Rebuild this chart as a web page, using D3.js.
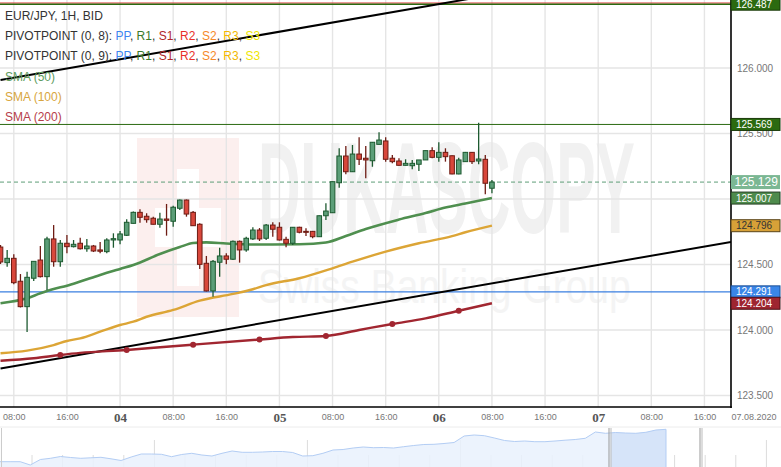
<!DOCTYPE html>
<html><head><meta charset="utf-8">
<script src="https://cdn.jsdelivr.net/npm/d3@7"></script>
<style>body{margin:0;background:#fff;overflow:hidden}svg{display:block;font-family:"Liberation Sans",Arial,sans-serif}</style>
</head><body><svg id="chart" width="781" height="467"></svg>
<script>
// ---------- DATA ----------
// hourly candles, EUR/JPY, starting 03.08.2020 06:00
const opens  = [124.633,124.514,124.547,124.372,124.178,124.395,124.534,124.407,124.695,124.521,124.662,124.636,124.662,124.620,124.641,124.611,124.598,124.687,124.687,124.723,124.814,124.898,124.868,124.853,124.807,124.847,124.830,124.929,124.992,124.898,124.807,124.509,124.298,124.517,124.565,124.540,124.677,124.611,124.695,124.763,124.700,124.801,124.784,124.692,124.662,124.784,124.753,124.753,124.712,124.872,124.895,125.124,125.328,125.208,125.343,125.311,125.292,125.417,125.443,125.311,125.290,125.257,125.254,125.265,125.298,125.369,125.318,125.356,125.330,125.191,125.285,125.356,125.290,125.303,125.082];
const highs  = [124.649,124.611,124.578,124.427,124.445,124.527,124.641,124.712,124.801,124.687,124.725,124.687,124.704,124.695,124.649,124.672,124.700,124.738,124.756,124.845,124.904,124.921,124.891,124.865,124.895,124.962,124.949,124.996,124.996,124.908,124.814,124.565,124.534,124.628,124.585,124.683,124.683,124.712,124.784,124.778,124.809,124.822,124.822,124.712,124.786,124.788,124.776,124.756,124.874,124.967,125.133,125.387,125.404,125.412,125.471,125.404,125.435,125.509,125.471,125.336,125.311,125.303,125.298,125.298,125.370,125.395,125.433,125.387,125.332,125.315,125.359,125.359,125.582,125.336,125.145];
const lows   = [124.504,124.483,124.349,124.172,123.985,124.374,124.401,124.305,124.483,124.483,124.585,124.630,124.614,124.598,124.595,124.585,124.585,124.628,124.654,124.717,124.813,124.819,124.819,124.805,124.781,124.720,124.788,124.916,124.865,124.794,124.466,124.294,124.254,124.407,124.501,124.534,124.514,124.598,124.687,124.679,124.687,124.712,124.683,124.631,124.649,124.738,124.717,124.700,124.710,124.840,124.893,125.086,125.188,125.206,125.259,125.158,125.246,125.416,125.285,125.272,125.256,125.256,125.227,125.214,125.298,125.311,125.285,125.285,125.188,125.188,125.285,125.267,125.265,125.036,125.043];
const closes = [124.519,124.547,124.361,124.178,124.402,124.524,124.407,124.695,124.521,124.662,124.636,124.654,124.620,124.641,124.603,124.601,124.687,124.697,124.733,124.822,124.898,124.860,124.842,124.807,124.847,124.837,124.937,124.992,124.885,124.796,124.501,124.298,124.524,124.565,124.540,124.677,124.611,124.700,124.763,124.695,124.801,124.769,124.687,124.662,124.784,124.746,124.746,124.712,124.872,124.908,125.132,125.328,125.208,125.343,125.303,125.298,125.433,125.450,125.303,125.285,125.257,125.272,125.272,125.298,125.369,125.318,125.356,125.323,125.191,125.298,125.356,125.285,125.305,125.120,125.129];

// moving averages, [candle index, value]
const sma50  = [[0,124.204],[4,124.242],[6,124.280],[8,124.313],[10,124.338],[12,124.370],[15,124.420],[18,124.466],[20,124.496],[24,124.580],[27,124.633],[29,124.664],[31,124.669],[34,124.660],[39,124.652],[45,124.654],[49,124.668],[52,124.717],[55,124.771],[60,124.843],[64,124.893],[67,124.935],[70,124.965],[74,125.007]];
const sma100 = [[0,123.822],[4,123.842],[8,123.885],[10,123.916],[12,123.936],[15,123.987],[18,124.038],[20,124.063],[22,124.101],[26,124.153],[30,124.224],[35,124.275],[38,124.311],[40,124.343],[45,124.395],[50,124.471],[53,124.521],[58,124.598],[63,124.662],[68,124.717],[70,124.746],[74,124.796]];
const sma200 = [[0,123.765],[5,123.784],[9,123.809],[12,123.825],[19,123.847],[25,123.872],[29,123.888],[39,123.927],[44,123.946],[49,123.954],[54,124.000],[59,124.046],[64,124.089],[69,124.147],[74,124.204]];
const sma200Markers = [9,19,29,39,49,59,69];

// trend lines, [candle index, price]
const trendUpper = [[0,125.908],[110,126.874]];
const trendLower = [[0,123.706],[110,124.672]];

// horizontal levels
const levelR = 126.496;
const levelTop = 126.487;
const levelMid = 125.569;
const levelPP = 124.291;
const lastPrice = 125.129;

// right axis price labels
const priceLabels = [126.487, 125.569, 125.129, 125.007, 124.796, 124.291, 124.204];
const yTickValues = [123.5, 124.0, 124.5, 125.0, 125.5, 126.0];
const dateLabel = "07.08.2020";

// navigator series (relative level)
const navValues = [5.3,5.3,5.3,2,7.5,8.7,10.5,9.5,8.7,9.2,9.7,8.2,6.5,10,13,13,12.7,10.3,12.5,13.7,12,11,13.7,16,14.7,14.7,15,15.5,15.5,14.5,11,11.3,13.7,17,17.5,19,20,19.3,19.5,19,20.3,21.5,22.5,22.7,23.5,24.5,31,32,31.3,29,26.5,25.5,26,25.3,25.3,26,26.8,27.5,28.7,35,33.7,34.5,34,33.7,34.7,37,37.7];

// legend
const legendTitle = "EUR/JPY, 1H, BID";
const pivotNames = ["PIVOTPOINT (0, 8): ", "PIVOTPOINT (0, 9): "];
const pivotKeys = ["PP","R1","S1","R2","S2","R3","S3"];
const smaNames = ["SMA (50)","SMA (100)","SMA (200)"];

// ---------- STYLE ----------
const C = {
  grid:"#e5e5e5", bullFill:"#5c9e78", bullLine:"#1d5a30", bearFill:"#d8473b", bearLine:"#6e1c14",
  sma50:"#4f8f4f", sma100:"#dca536", sma200:"#a12630",
  pivot:{PP:"#3d85f0",R1:"#3b7a2a",S1:"#b0282a",R2:"#e8302a",S2:"#f58a2a",R3:"#f2b800",S3:"#f0e600"},
  smaText:["#5e9c5e","#d8a640","#b6404a"]
};
const labelStyle = {
  "126.487":{fill:"#2b6a10",stroke:"#1a3a0a",text:"#fff"},
  "125.569":{fill:"#2b6a10",stroke:"#1a3a0a",text:"#fff"},
  "125.129":{fill:"#7bb793",stroke:"none",text:"#fff",big:true},
  "125.007":{fill:"#4e8b4c",stroke:"#243f22",text:"#fff"},
  "124.796":{fill:"#d7a138",stroke:"#5a4418",text:"#333"},
  "124.291":{fill:"#3a86e8",stroke:"#1d4f96",text:"#fff"},
  "124.204":{fill:"#9e2530",stroke:"#4d1016",text:"#fff"}
};

// ---------- CHART ----------
const PW = 731, PH = 407;
const svg = d3.select("#chart");
const t0 = new Date(2020,7,3,6,0);
const tIdx = i => d3.timeHour.offset(t0, i);
const x = d3.scaleTime().domain([new Date(t0.getTime() - 4.7*60000), new Date(2020,7,7,20,0)]).range([0, PW]);
const y = d3.scaleLinear().domain([123.412, 126.519]).range([PH, 0]);
const fmt = d3.format(".3f");

svg.append("defs").append("clipPath").attr("id","pc").append("rect").attr("width",PW).attr("height",PH);

// watermark
const wm = svg.append("g");
wm.append("rect").attr("x",137).attr("y",138).attr("width",102).attr("height",179).attr("fill","#fcefee");
wm.append("rect").attr("x",177).attr("y",169).attr("width",22).attr("height",117).attr("fill","#fff");
wm.append("rect").attr("x",155).attr("y",208).attr("width",66).attr("height",39).attr("fill","#fff");
wm.append("text").attr("transform","translate(258,233) scale(1,2.2)").attr("font-size",59).attr("font-weight","bold")
  .attr("fill","#f1f1f1").text("DUKASCOPY");
wm.append("text").attr("transform","translate(258,303) scale(1,1.23)").attr("font-size",39)
  .attr("fill","#f4f4f4").text("Swiss Banking Group");

// grid
const xTicks = d3.timeHour.every(8).range(x.domain()[0], x.domain()[1]);
const grid = svg.append("g");
grid.selectAll(".vg").data(xTicks).join("line").attr("x1",d=>x(d)).attr("x2",d=>x(d)).attr("y1",0).attr("y2",PH)
  .attr("stroke",C.grid).attr("stroke-width",1.4);
grid.selectAll(".hg").data(yTickValues).join("line").attr("x1",0).attr("x2",PW).attr("y1",d=>y(d)).attr("y2",d=>y(d))
  .attr("stroke",C.grid).attr("stroke-width",1.4);

const plot = svg.append("g").attr("clip-path","url(#pc)");

// levels
const hline = (v,col,w,dash)=>plot.append("line").attr("x1",0).attr("x2",PW).attr("y1",y(v)).attr("y2",y(v))
  .attr("stroke",col).attr("stroke-width",w).attr("stroke-dasharray",dash||null);
hline(levelR,"#d33",1);
hline(levelTop,"#2b6a10",1.5);
hline(levelMid,"#2b6a10",1);
hline(levelPP,"#3a7fe0",1.3);
hline(lastPrice,"#5e9e78",1,"4,3");

// trend lines
const tl = d3.line().x(d=>x(tIdx(d[0]))).y(d=>y(d[1]));
[trendUpper,trendLower].forEach(t=>plot.append("path").attr("d",tl(t)).attr("fill","none").attr("stroke","#000").attr("stroke-width",2));

// SMAs
const sl = d3.line().x(d=>x(tIdx(d[0]))).y(d=>y(d[1])).curve(d3.curveMonotoneX);
plot.append("path").attr("d",sl(sma200)).attr("fill","none").attr("stroke",C.sma200).attr("stroke-width",2.4);
plot.selectAll(".dot").data(sma200.filter(d=>sma200Markers.includes(d[0]))).join("circle")
  .attr("cx",d=>x(tIdx(d[0]))).attr("cy",d=>y(d[1])).attr("r",3).attr("fill",C.sma200);
plot.append("path").attr("d",sl(sma100)).attr("fill","none").attr("stroke",C.sma100).attr("stroke-width",2.4);
plot.append("path").attr("d",sl(sma50)).attr("fill","none").attr("stroke",C.sma50).attr("stroke-width",2.6);

// candles
const candles = opens.map((o,i)=>({t:tIdx(i),o,h:highs[i],l:lows[i],c:closes[i]}));
const cw = 4.6;
const cg = plot.selectAll(".c").data(candles).join("g");
cg.append("line").attr("x1",d=>x(d.t)).attr("x2",d=>x(d.t)).attr("y1",d=>y(d.h)).attr("y2",d=>y(d.l))
  .attr("stroke",d=>d.c>=d.o?C.bullLine:C.bearLine).attr("stroke-width",1.3);
cg.append("rect").attr("x",d=>x(d.t)-cw/2).attr("width",cw)
  .attr("y",d=>y(Math.max(d.o,d.c))).attr("height",d=>Math.max(1,Math.abs(y(d.o)-y(d.c))))
  .attr("fill",d=>d.c>=d.o?C.bullFill:C.bearFill).attr("stroke",d=>d.c>=d.o?C.bullLine:C.bearLine).attr("stroke-width",1);

// legend
const lg = svg.append("g").attr("font-size",12);
lg.append("text").attr("x",5).attr("y",20).attr("fill","#333").text(legendTitle);
pivotNames.forEach((nm,r)=>{
  const t = lg.append("text").attr("x",5).attr("y",40+20*r).attr("fill","#333");
  t.append("tspan").text(nm);
  pivotKeys.forEach((k,j)=>{
    t.append("tspan").attr("fill",C.pivot[k]).text(k);
    if(j<pivotKeys.length-1) t.append("tspan").attr("fill","#333").text(", ");
  });
});
smaNames.forEach((nm,r)=>lg.append("text").attr("x",5).attr("y",80.5+20*r).attr("fill",C.smaText[r]).text(nm));

// frame
svg.append("line").attr("x1",PW).attr("x2",PW).attr("y1",0).attr("y2",PH+1).attr("stroke","#000").attr("stroke-width",1.6);
svg.append("line").attr("x1",0).attr("x2",PW+0.8).attr("y1",PH).attr("y2",PH).attr("stroke","#000").attr("stroke-width",1.6);

// x axis
const xa = svg.append("g").attr("transform","translate(0,417)")
  .call(d3.axisBottom(x).tickValues(xTicks).tickSize(0).tickPadding(0)
    .tickFormat(d=>d.getHours()===0?d3.timeFormat("%d")(d):d3.timeFormat("%H:%M")(d)));
xa.select(".domain").remove();
xa.selectAll("text").attr("y",0).attr("dy","0.35em").attr("fill","#777").attr("font-size",9)
  .attr("font-family","'Liberation Sans',Arial,sans-serif");
xa.selectAll("text").filter(d=>d.getHours()===0).attr("font-size",13).attr("font-weight","bold")
  .attr("fill","#555").attr("font-family","'Liberation Serif','Times New Roman',serif");
svg.append("text").attr("x",754).attr("y",417).attr("dy","0.35em").attr("text-anchor","middle")
  .attr("font-size",9).attr("fill","#777").text(dateLabel);

// y axis (tick labels fully hidden behind a price label are not drawn)
const visibleTicks = yTickValues.filter(v=>!priceLabels.some(p=>Math.abs(y(p)-y(v))<7));
const ya = svg.append("g").attr("transform",`translate(${PW},0)`)
  .call(d3.axisRight(y).tickValues(visibleTicks).tickSize(0).tickPadding(6).tickFormat(fmt));
ya.select(".domain").remove();
ya.selectAll("text").attr("fill","#777").attr("font-size",10).attr("font-family","'Liberation Sans',Arial,sans-serif");

// price labels
const st = d=>labelStyle[fmt(d)];
const pl = svg.selectAll(".pl").data(priceLabels).join("g")
  .attr("transform",d=>`translate(${PW},${y(d)})`);
pl.append("rect").attr("x",0).attr("y",d=>st(d).big?-7:-6)
  .attr("width",49).attr("height",d=>st(d).big?14:12)
  .attr("fill",d=>st(d).fill).attr("stroke",d=>st(d).stroke).attr("stroke-width",1);
pl.append("text").attr("x",d=>st(d).big?3.5:5).attr("dy","0.36em")
  .attr("font-size",d=>st(d).big?12:10)
  .attr("fill",d=>st(d).text).text(d=>fmt(d));

// navigator
const nav = svg.append("g");
nav.append("line").attr("x1",0).attr("x2",781).attr("y1",427).attr("y2",427).attr("stroke","#ececec");
const nx = d3.scaleLinear().domain([0,navValues.length-1]).range([0,666]);
const ny = d3.scaleLinear().domain([0,40]).range([467,427]);
const navTick = d3.scaleLinear().domain([0,25]).range([1.4,766.4]);
nav.selectAll(".nt").data(navTick.ticks(25)).join("line")
  .attr("x1",d=>navTick(d)).attr("x2",d=>navTick(d)).attr("y1",d=>d%5===0?440:455).attr("y2",467)
  .attr("stroke","#dcdcdc");
const na = d3.area().x((d,i)=>nx(i)).y0(467).y1(d=>ny(d));
const nl = d3.line().x((d,i)=>nx(i)).y(d=>ny(d));
nav.append("path").attr("d",na(navValues)).attr("fill","#e9f1fd").attr("fill-opacity",0.85);
nav.append("clipPath").attr("id","sel").append("rect").attr("x",611).attr("y",420).attr("width",60).attr("height",50);
nav.append("path").attr("d",na(navValues)).attr("fill","#d6e4f9").attr("clip-path","url(#sel)");
nav.append("path").attr("d",nl(navValues)).attr("fill","none").attr("stroke","#b3cdf4").attr("stroke-width",1);
nav.append("line").attr("x1",666).attr("x2",666).attr("y1",ny(navValues[navValues.length-1])).attr("y2",467).attr("stroke","#b3cdf4");
nav.append("line").attr("x1",1.5).attr("x2",1.5).attr("y1",428).attr("y2",467).attr("stroke","#ccc");
[609,700].forEach(v=>{
  nav.append("line").attr("x1",v).attr("x2",v).attr("y1",428).attr("y2",467).attr("stroke","#999");
  nav.append("line").attr("x1",v+2).attr("x2",v+2).attr("y1",428).attr("y2",467).attr("stroke","#bbb");
});
</script></body></html>
